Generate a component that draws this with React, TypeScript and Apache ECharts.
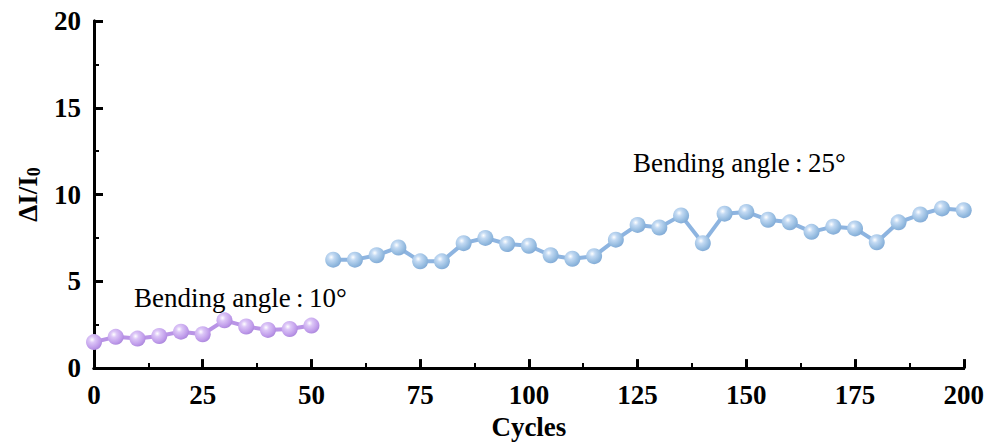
import React, { useEffect, useRef } from "react";
import * as echarts from "echarts";

const cycles10: number[] = [0, 5, 10, 15, 20, 25, 30, 35, 40, 45, 50];
const values10: number[] = [1.5, 1.8, 1.7, 1.85, 2.1, 1.95, 2.75, 2.4, 2.2, 2.25, 2.45];

const cycles25: number[] = [
  55, 60, 65, 70, 75, 80, 85, 90, 95, 100, 105, 110, 115, 120, 125,
  130, 135, 140, 145, 150, 155, 160, 165, 170, 175, 180, 185, 190, 195, 200,
];
const values25: number[] = [
  6.25, 6.25, 6.5, 6.95, 6.15, 6.15, 7.2, 7.5, 7.15, 7.05, 6.5, 6.3, 6.45, 7.4, 8.25,
  8.1, 8.8, 7.2, 8.9, 9.0, 8.55, 8.4, 7.85, 8.15, 8.05, 7.25, 8.4, 8.85, 9.2, 9.1,
];

const xTicks: number[] = [0, 25, 50, 75, 100, 125, 150, 175, 200];
const yTicks: number[] = [0, 5, 10, 15, 20];

const label10 = "Bending angle\u2009:\u200910°";
const label25 = "Bending angle\u2009:\u200925°";

const FONT = "'Times New Roman', 'Liberation Serif', serif";

function sphere(light: string, mid: string, dark: string) {
  return {
    type: "radial",
    x: 0.38,
    y: 0.35,
    r: 0.75,
    colorStops: [
      { offset: 0, color: "#ffffff" },
      { offset: 0.25, color: light },
      { offset: 0.7, color: mid },
      { offset: 1, color: dark },
    ],
  };
}

export default function App() {
  const ref = useRef<HTMLDivElement>(null);
  useEffect(() => {
    if (!ref.current) return;
    const chart = echarts.init(ref.current, null, { renderer: "svg" });
    const xMin = xTicks[0];
    const xMax = xTicks[xTicks.length - 1];
    const yMin = yTicks[0];
    const yMax = yTicks[yTicks.length - 1];
    chart.setOption({
      animation: false,
      backgroundColor: "#ffffff",
      grid: { left: 94, right: 23, top: 21, bottom: 73 },
      xAxis: [
        {
          type: "value",
          min: xMin,
          max: xMax,
          interval: 25,
          name: "Cycles",
          nameLocation: "middle",
          nameGap: 42,
          nameTextStyle: { fontFamily: FONT, fontWeight: "bold", fontSize: 27, color: "#000" },
          axisLine: { show: true, lineStyle: { color: "#000", width: 3 } },
          axisTick: { show: true, inside: true, length: 9, lineStyle: { color: "#000", width: 3 } },
          minorTick: { show: true, splitNumber: 2, length: 5, lineStyle: { color: "#000", width: 2 } },
          axisLabel: { fontFamily: FONT, fontWeight: "bold", fontSize: 27, color: "#000", margin: 13 },
          splitLine: { show: false },
        },
        {
          type: "value",
          position: "top",
          min: xMin,
          max: xMax,
          axisLine: { show: true, lineStyle: { color: "#000", width: 3 } },
          axisTick: { show: false },
          axisLabel: { show: false },
          splitLine: { show: false },
        },
      ],
      yAxis: [
        {
          type: "value",
          min: yMin,
          max: yMax,
          interval: 5,
          name: "ΔI/I{sub|0}",
          nameLocation: "middle",
          nameGap: 50,
          nameRotate: 90,
          nameTextStyle: {
            fontFamily: FONT,
            fontWeight: "bold",
            fontSize: 27,
            color: "#000",
            rich: {
              sub: { fontFamily: FONT, fontWeight: "bold", fontSize: 18, color: "#000", verticalAlign: "bottom", padding: [12, 0, 0, 0] },
            },
          },
          axisLine: { show: true, lineStyle: { color: "#000", width: 3 } },
          axisTick: { show: true, inside: true, length: 9, lineStyle: { color: "#000", width: 3 } },
          minorTick: { show: true, splitNumber: 2, length: 5, lineStyle: { color: "#000", width: 2 } },
          axisLabel: { fontFamily: FONT, fontWeight: "bold", fontSize: 27, color: "#000", margin: 13 },
          splitLine: { show: false },
        },
        {
          type: "value",
          position: "right",
          min: yMin,
          max: yMax,
          axisLine: { show: true, lineStyle: { color: "#000", width: 3 } },
          axisTick: { show: false },
          axisLabel: { show: false },
          splitLine: { show: false },
        },
      ],
      series: [
        {
          type: "line",
          data: cycles10.map((c, i) => [c, values10[i]]),
          symbol: "circle",
          symbolSize: 16,
          lineStyle: { color: "#B994E6", width: 4 },
          itemStyle: { color: sphere("#dcc6f7", "#bf9bea", "#a27ed6") as any },
          z: 3,
        },
        {
          type: "line",
          data: cycles25.map((c, i) => [c, values25[i]]),
          symbol: "circle",
          symbolSize: 16,
          lineStyle: { color: "#8DB4E0", width: 4 },
          itemStyle: { color: sphere("#c3daf3", "#93badf", "#7aa3d2") as any },
          z: 3,
        },
      ],
      graphic: [
        {
          type: "text",
          left: 134,
          top: 284,
          style: { text: label10, font: `27px ${FONT}`, fill: "#000" },
        },
        {
          type: "text",
          left: 633,
          top: 149,
          style: { text: label25, font: `27px ${FONT}`, fill: "#000" },
        },
      ],
    });
    return () => chart.dispose();
  }, []);
  return (
    <div
      ref={ref}
      style={{ position: "fixed", left: 0, top: 0, width: 987, height: 445, background: "#fff" }}
    />
  );
}
